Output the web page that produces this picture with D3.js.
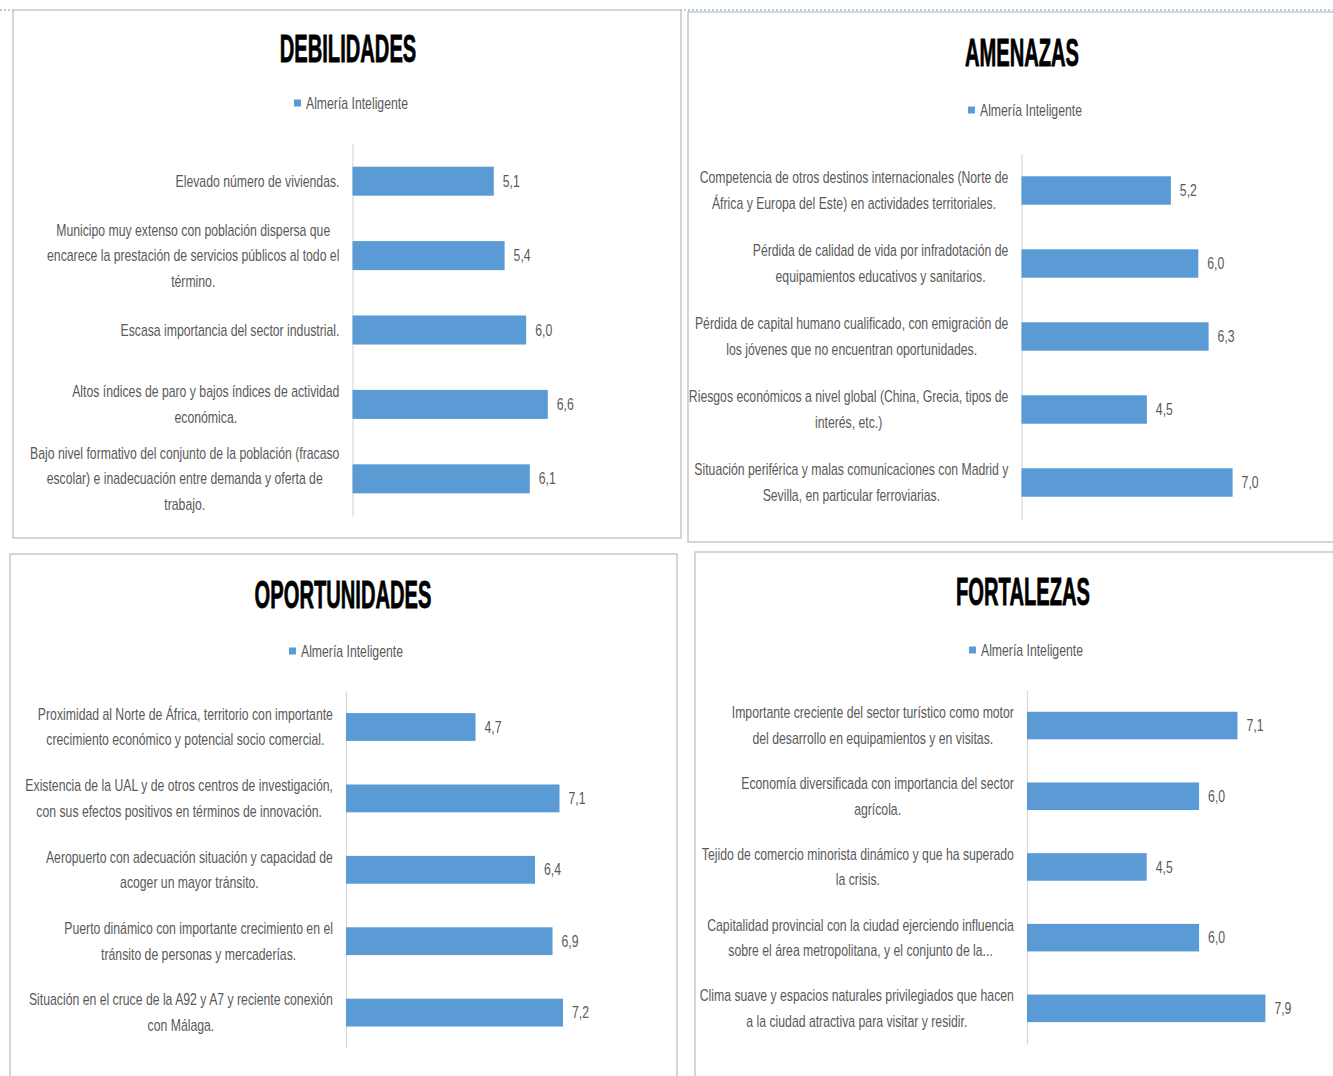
<!DOCTYPE html>
<html>
<head>
<meta charset="utf-8">
<script src="https://cdn.jsdelivr.net/npm/d3@7"></script>
<style>
  body { margin: 0; background: #fff; }
  text { font-family: "Liberation Sans", Arial, sans-serif; }
</style>
</head>
<body>
<svg id="chart" width="1333" height="1076"></svg>
<script>
// ---- data ----
var seriesName = 'Almería Inteligente';

var debilidadesLabels = [
  'Elevado número de viviendas.',
  'Municipo muy extenso con población dispersa que\nencarece la prestación de servicios públicos al todo el\ntérmino.',
  'Escasa importancia del sector industrial.',
  'Altos índices de paro y bajos índices de actividad\neconómica.',
  'Bajo nivel formativo del conjunto de la población (fracaso\nescolar) e inadecuación entre demanda y oferta de\ntrabajo.'
];
var debilidadesValues = [5.1, 5.4, 6.0, 6.6, 6.1];

var amenazasLabels = [
  'Competencia de otros destinos internacionales (Norte de\nÁfrica y Europa del Este) en actividades territoriales.',
  'Pérdida de calidad de vida por infradotación de\nequipamientos educativos y sanitarios.',
  'Pérdida de capital humano cualificado, con emigración de\nlos jóvenes que no encuentran oportunidades.',
  'Riesgos económicos a nivel global (China, Grecia, tipos de\ninterés, etc.)',
  'Situación periférica y malas comunicaciones con Madrid y\nSevilla, en particular ferroviarias.'
];
var amenazasValues = [5.2, 6.0, 6.3, 4.5, 7.0];

var oportunidadesLabels = [
  'Proximidad al Norte de África, territorio con importante\ncrecimiento económico y potencial socio comercial.',
  'Existencia de la UAL y de otros centros de investigación,\ncon sus efectos positivos en términos de innovación.',
  'Aeropuerto con adecuación situación y capacidad de\nacoger un mayor tránsito.',
  'Puerto dinámico con importante crecimiento en el\ntránsito de personas y mercaderías.',
  'Situación en el cruce de la A92 y A7 y reciente conexión\ncon Málaga.'
];
var oportunidadesValues = [4.7, 7.1, 6.4, 6.9, 7.2];

var fortalezasLabels = [
  'Importante creciente del sector turístico como motor\ndel desarrollo en equipamientos y en visitas.',
  'Economía diversificada con importancia del sector\nagrícola.',
  'Tejido de comercio minorista dinámico y que ha superado\nla crisis.',
  'Capitalidad provincial con la ciudad ejerciendo influencia\nsobre el área metropolitana, y el conjunto de la...',
  'Clima suave y espacios naturales privilegiados que hacen\na la ciudad atractiva para visitar y residir.'
];
var fortalezasValues = [7.1, 6.0, 4.5, 6.0, 7.9];

// ---- layout of the four panels ----
var panels = [
  { title: 'DEBILIDADES', labels: debilidadesLabels, values: debilidadesValues,
    box: [13, 10, 668, 528], cx: 348, titleY: 48, legendX: 351, legendY: 103,
    xMin: 1.175, x0: 352.5, x1: 598.2, y0: 144, y1: 516 },
  { title: 'AMENAZAS', labels: amenazasLabels, values: amenazasValues,
    box: [688, 12, 700, 530], cx: 1022, titleY: 52, legendX: 1025, legendY: 110,
    xMin: 0.845, x0: 1021.5, x1: 1266.9, y0: 154, y1: 519 },
  { title: 'OPORTUNIDADES', labels: oportunidadesLabels, values: oportunidadesValues,
    box: [10, 554, 667, 560], cx: 343, titleY: 594, legendX: 346, legendY: 651,
    xMin: 1.0, x0: 346, x1: 591, y0: 691.3, y1: 1048.3 },
  { title: 'FORTALEZAS', labels: fortalezasLabels, values: fortalezasValues,
    box: [695, 552, 700, 560], cx: 1023, titleY: 591, legendX: 1026, legendY: 650,
    xMin: 1.07, x0: 1027, x1: 1268.9, y0: 690.2, y1: 1043.7 }
];

var barColor = '#5B9BD5';
var textColor = '#595959';
var narrow = 0.765;   // horizontal squeeze to mimic the condensed font
var fmt = d3.formatLocale({ decimal: ',', thousands: '.', grouping: [3], currency: ['', '€'] }).format('.1f');

var svg = d3.select('#chart');

// dotted blue separator at the very top
svg.append('line')
  .attr('x1', 0).attr('x2', 13).attr('y1', 10).attr('y2', 10)
  .attr('stroke', '#5B9BD5').attr('stroke-dasharray', '2,2');
svg.append('line')
  .attr('x1', 680).attr('x2', 1333).attr('y1', 10).attr('y2', 10)
  .attr('stroke', '#5B9BD5').attr('stroke-dasharray', '2,2');

panels.forEach(function(p) {
  var g = svg.append('g');

  g.append('rect')
    .attr('x', p.box[0]).attr('y', p.box[1])
    .attr('width', p.box[2]).attr('height', p.box[3])
    .attr('fill', '#fff')
    .attr('stroke', '#bfbfbf')
    .attr('stroke-width', 1.3);

  // title
  g.append('text')
    .attr('transform', 'translate(' + p.cx + ',' + p.titleY + ') scale(0.53,1)')
    .attr('text-anchor', 'middle')
    .attr('dominant-baseline', 'central')
    .attr('font-size', 38)
    .attr('font-weight', 'bold')
    .attr('fill', '#000')
    .attr('stroke', '#000')
    .attr('stroke-width', 0.8)
    .text(p.title);

  // legend
  var leg = g.append('g');
  var legText = leg.append('text')
    .attr('dominant-baseline', 'central')
    .attr('font-size', 16)
    .attr('fill', textColor)
    .text(seriesName);
  var tw = legText.node().getComputedTextLength() * narrow;
  var total = 7 + 5 + tw;
  var lx = p.legendX - total / 2;
  leg.append('rect')
    .attr('x', lx).attr('y', p.legendY - 3.5)
    .attr('width', 7).attr('height', 7)
    .attr('fill', barColor);
  legText.attr('transform', 'translate(' + (lx + 12) + ',' + p.legendY + ') scale(' + narrow + ',1)');

  // scales
  var x = d3.scaleLinear()
    .domain([p.xMin, 8])
    .range([p.x0, p.x1]);

  var y = d3.scaleBand()
    .domain(d3.range(p.values.length))
    .range([p.y0, p.y1])
    .paddingInner(0.61)
    .paddingOuter(0.305);

  // category axis line
  var axis = g.append('g')
    .attr('transform', 'translate(' + p.x0 + ',0)')
    .call(d3.axisLeft(y).tickSize(0).tickFormat(''));
  axis.select('.domain').attr('stroke', '#d9d9d9').attr('stroke-width', 1.2);

  // bars
  g.selectAll('.bar')
    .data(p.values)
    .enter()
    .append('rect')
    .classed('bar', true)
    .attr('x', x(p.xMin))
    .attr('y', (d, i) => y(i))
    .attr('width', d => x(d) - x(p.xMin))
    .attr('height', y.bandwidth())
    .attr('fill', barColor);

  // value labels
  g.selectAll('.val')
    .data(p.values)
    .enter()
    .append('text')
    .classed('val', true)
    .attr('transform', (d, i) => 'translate(' + (x(d) + 9) + ',' + (y(i) + y.bandwidth() / 2) + ') scale(' + narrow + ',1)')
    .attr('dominant-baseline', 'central')
    .attr('font-size', 16)
    .attr('fill', textColor)
    .text(d => fmt(d));

  // category labels (multi-line, centred block, right aligned to the axis)
  p.labels.forEach(function(label, i) {
    var lines = label.split('\n');
    var cy = y(i) + y.bandwidth() / 2;
    var lg = g.append('g');
    var nodes = lines.map(function(line, k) {
      return lg.append('text')
        .attr('text-anchor', 'middle')
        .attr('dominant-baseline', 'central')
        .attr('font-size', 16)
        .attr('fill', textColor)
        .text(line);
    });
    var maxW = d3.max(nodes, n => n.node().getComputedTextLength()) * narrow;
    var mid = p.x0 - 13 - maxW / 2;
    nodes.forEach(function(n, k) {
      var ly = cy + (k - (lines.length - 1) / 2) * 25.5;
      n.attr('transform', 'translate(' + mid + ',' + ly + ') scale(' + narrow + ',1)');
    });
  });
});
</script>
</body>
</html>
